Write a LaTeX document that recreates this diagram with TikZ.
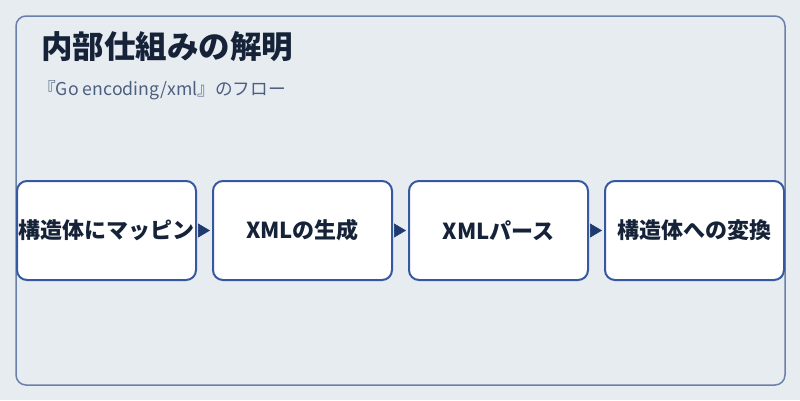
\documentclass[tikz,border=0pt]{standalone}
\usepackage{fontspec}
\newfontfamily\jpfont{Noto Sans CJK JP}
\usetikzlibrary{positioning,arrows.meta}

\definecolor{bgcol}{HTML}{E7ECF1}
\definecolor{framecol}{HTML}{6B80A8}
\definecolor{boxcol}{HTML}{3658A0}
\definecolor{arrcol}{HTML}{1F3A6E}
\definecolor{titlecol}{HTML}{152238}
\definecolor{subcol}{HTML}{4D5F7F}

\tikzset{
	stepbox/.style={draw=boxcol, line width=2pt, fill=white, rounded corners=10pt,
		minimum width=179pt, minimum height=99pt, inner sep=0pt,
		font=\jpfont\bfseries\fontsize{22}{26}\selectfont, text=titlecol},
	flow/.style={draw=arrcol, line width=0.6pt, shorten <=1pt, shorten >=2pt,
		-{Triangle[length=12pt,width=14pt]}, arrcol}
}

\begin{document}
\begin{tikzpicture}[x=1pt,y=-1pt]

	% background and outer frame
	\fill[bgcol] (0,0) rectangle (800,400);
	\useasboundingbox (0,0) rectangle (800,400);
	\draw[framecol, line width=1.5pt, rounded corners=10pt] (16,16) rectangle (785,385);

	% title and subtitle
	\node[anchor=west, inner sep=0pt, text=titlecol,
		font=\jpfont\bfseries\fontsize{31.5}{36}\selectfont] (title) at (41,47) {内部仕組みの解明};
	\node[anchor=west, inner sep=0pt, text=subcol,
		font=\jpfont\fontsize{17.7}{21}\selectfont] (subtitle) at (38,90) {『Go encoding/xml』のフロー};

	% the four steps
	\node[stepbox] (map) at (106.5,230.5) {構造体にマッピン};
	\node[stepbox, right=15pt of map] (gen) {XMLの生成};
	\node[stepbox, right=15pt of gen] (parse) {XMLパース};
	\node[stepbox, right=15pt of parse] (conv) {構造体への変換};

	% arrows between the steps
	\draw[flow] (map) -- (gen);
	\draw[flow] (gen) -- (parse);
	\draw[flow] (parse) -- (conv);

\end{tikzpicture}
\end{document}
